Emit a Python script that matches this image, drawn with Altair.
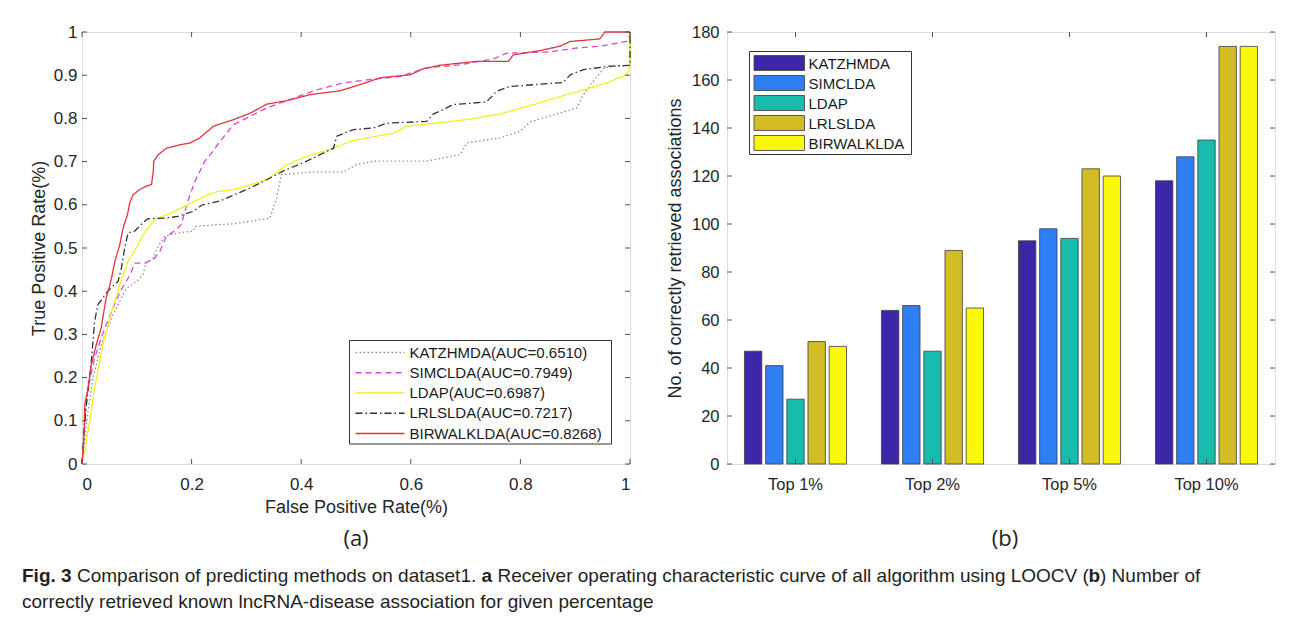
import altair as alt
import pandas as pd

# ---------------- data ----------------
ALGOS = ["KATZHMDA", "SIMCLDA", "LDAP", "LRLSLDA", "BIRWALKLDA"]
AUCS = ["0.6510", "0.7949", "0.6987", "0.7217", "0.8268"]

KATZ_ROC = [(0.000, 0.000), (0.004, 0.045), (0.011, 0.122), (0.020, 0.199), (0.035, 0.276),
            (0.054, 0.338), (0.078, 0.400), (0.085, 0.410), (0.102, 0.425), (0.111, 0.438),
            (0.117, 0.465), (0.130, 0.477), (0.139, 0.504), (0.151, 0.527), (0.175, 0.535),
            (0.203, 0.539), (0.206, 0.550), (0.248, 0.554), (0.276, 0.556), (0.343, 0.569),
            (0.355, 0.616), (0.364, 0.670), (0.422, 0.676), (0.477, 0.676), (0.501, 0.693),
            (0.532, 0.701), (0.629, 0.701), (0.690, 0.716), (0.702, 0.743), (0.763, 0.755),
            (0.799, 0.770), (0.818, 0.792), (0.860, 0.808), (0.903, 0.824), (0.915, 0.855),
            (0.933, 0.886), (0.954, 0.918), (1.000, 0.923), (1.000, 1.000)]
SIMC_ROC = [(0.000, 0.000), (0.002, 0.030), (0.006, 0.122), (0.011, 0.176), (0.023, 0.245),
            (0.035, 0.292), (0.054, 0.353), (0.070, 0.400), (0.084, 0.430), (0.090, 0.445),
            (0.096, 0.465), (0.114, 0.465), (0.130, 0.473), (0.142, 0.492), (0.154, 0.527),
            (0.169, 0.540), (0.181, 0.554), (0.193, 0.608), (0.206, 0.654), (0.224, 0.701),
            (0.234, 0.716), (0.252, 0.747), (0.276, 0.785), (0.307, 0.805), (0.337, 0.824),
            (0.367, 0.838), (0.428, 0.866), (0.477, 0.882), (0.520, 0.889), (0.580, 0.897),
            (0.629, 0.917), (0.690, 0.924), (0.751, 0.938), (0.775, 0.951), (0.854, 0.954),
            (0.903, 0.963), (0.945, 0.967), (0.994, 0.978), (1.000, 0.994), (1.000, 1.000)]
LDAP_ROC = [(0.000, 0.000), (0.005, 0.029), (0.014, 0.099), (0.023, 0.176), (0.038, 0.276),
            (0.054, 0.353), (0.070, 0.420), (0.084, 0.469), (0.099, 0.500), (0.114, 0.535),
            (0.133, 0.566), (0.163, 0.581), (0.187, 0.596), (0.224, 0.620), (0.248, 0.631),
            (0.276, 0.635), (0.337, 0.658), (0.374, 0.693), (0.410, 0.712), (0.459, 0.731),
            (0.495, 0.749), (0.568, 0.766), (0.593, 0.782), (0.702, 0.797), (0.763, 0.810),
            (0.824, 0.832), (0.860, 0.846), (0.915, 0.866), (0.957, 0.882), (0.994, 0.901),
            (1.000, 0.924), (1.000, 1.000)]
LRLS_ROC = [(0.000, 0.000), (0.004, 0.083), (0.008, 0.137), (0.017, 0.238), (0.023, 0.330),
            (0.029, 0.369), (0.047, 0.400), (0.066, 0.423), (0.072, 0.454), (0.078, 0.500),
            (0.084, 0.535), (0.096, 0.539), (0.111, 0.558), (0.120, 0.568), (0.151, 0.569),
            (0.175, 0.573), (0.203, 0.585), (0.218, 0.599), (0.252, 0.609), (0.307, 0.639),
            (0.337, 0.658), (0.367, 0.678), (0.410, 0.701), (0.459, 0.731), (0.465, 0.759),
            (0.495, 0.774), (0.532, 0.778), (0.556, 0.789), (0.629, 0.793), (0.641, 0.810),
            (0.678, 0.832), (0.738, 0.838), (0.757, 0.863), (0.781, 0.874), (0.878, 0.883),
            (0.891, 0.901), (0.915, 0.913), (0.964, 0.921), (1.000, 0.923), (1.000, 1.000)]
BIRW_ROC = [(0.000, 0.000), (0.002, 0.030), (0.004, 0.076), (0.005, 0.137), (0.011, 0.176),
            (0.017, 0.230), (0.026, 0.276), (0.035, 0.315), (0.044, 0.384), (0.051, 0.415),
            (0.054, 0.431), (0.060, 0.469), (0.069, 0.508), (0.075, 0.546), (0.083, 0.577),
            (0.087, 0.604), (0.093, 0.623), (0.105, 0.635), (0.117, 0.643), (0.127, 0.647),
            (0.130, 0.678), (0.131, 0.701), (0.139, 0.716), (0.154, 0.731), (0.179, 0.739),
            (0.197, 0.743), (0.215, 0.755), (0.240, 0.782), (0.276, 0.797), (0.307, 0.812),
            (0.337, 0.833), (0.374, 0.841), (0.416, 0.855), (0.471, 0.864), (0.507, 0.878),
            (0.544, 0.894), (0.599, 0.901), (0.623, 0.915), (0.653, 0.923), (0.720, 0.932),
            (0.778, 0.932), (0.787, 0.947), (0.836, 0.957), (0.872, 0.967), (0.891, 0.978),
            (0.945, 0.984), (0.954, 1.000), (1.000, 1.000)]
ROCS = [KATZ_ROC, SIMC_ROC, LDAP_ROC, LRLS_ROC, BIRW_ROC]

CATEGORIES = ["Top 1%", "Top 2%", "Top 5%", "Top 10%"]
KATZ_BARS = [47, 64, 93, 118]
SIMC_BARS = [41, 66, 98, 128]
LDAP_BARS = [27, 47, 94, 135]
LRLS_BARS = [51, 89, 123, 174]
BIRW_BARS = [49, 65, 120, 174]
BARS = [KATZ_BARS, SIMC_BARS, LDAP_BARS, LRLS_BARS, BIRW_BARS]

X_TICKS = [0, 0.2, 0.4, 0.6, 0.8, 1]
Y_TICKS = [0, 0.1, 0.2, 0.3, 0.4, 0.5, 0.6, 0.7, 0.8, 0.9, 1]
BAR_TICKS = [0, 20, 40, 60, 80, 100, 120, 140, 160, 180]

CAPTION_1 = [("Fig. 3", "bold", 0),
             ("Comparison of predicting methods on dataset1.", "normal", 55),
             ("a", "bold", 459.5),
             ("Receiver operating characteristic curve of all algorithm using LOOCV (", "normal", 475.5),
             ("b", "bold", 1066.5),
             (") Number of", "normal", 1078)]
CAPTION_2 = "correctly retrieved known lncRNA-disease association for given percentage"

# ---------------- styles ----------------
LINE_COLORS = ["#8c8c9a", "#dd44dd", "#f2f21c", "#333333", "#e0353f"]
LINE_DASHES = [[1.5, 2.5], [6, 4], [1, 0], [7, 3, 1.5, 3], [1, 0]]
BAR_COLORS = ["#3e26a8", "#2f7ff4", "#17bcad", "#d2bd26", "#f9f70e"]

FONT = "Liberation Sans"
CAP_FONT = "Liberation Sans"
TXT = "#262626"
TICK = "#505050"
W, H = 548, 432
CAP_SHIFT = -60

one = pd.DataFrame({"k": [0]})

roc_rows = []
for name, pts in zip(ALGOS, ROCS):
    for i, (fx, ty) in enumerate(pts):
        roc_rows.append({"algo": name, "fpr": fx, "tpr": ty, "idx": i})
roc_df = pd.DataFrame(roc_rows)

bar_rows = []
for name, vals in zip(ALGOS, BARS):
    for cat, v in zip(CATEGORIES, vals):
        bar_rows.append({"algo": name, "category": cat, "value": v})
bar_df = pd.DataFrame(bar_rows)

line_color = alt.Scale(domain=ALGOS, range=LINE_COLORS)
line_dash = alt.Scale(domain=ALGOS, range=LINE_DASHES)
bar_color = alt.Scale(domain=ALGOS, range=BAR_COLORS)


def plain_axis(values=None, size=17, pad=5, title=None, title_pad=5, fmt=None):
    kw = dict(ticks=False, domain=False, grid=False, labelFont=FONT,
              labelFontSize=size, labelColor=TXT, labelPadding=pad, labelAngle=0,
              titleFont=FONT, titleFontSize=18, titleFontWeight="normal",
              titleColor=TXT, titlePadding=title_pad)
    if title is not None:
        kw["title"] = title
    if values is not None:
        kw["values"] = values
    if fmt is not None:
        kw["format"] = fmt
    return alt.Axis(**kw)


def text(s, x, y, size, weight="normal", align="left", font=FONT, color=TXT):
    return alt.Chart(one).mark_text(
        text=s, align=align, baseline="middle", fontSize=size, fontWeight=weight,
        font=font, color=color).encode(x=alt.value(x), y=alt.value(y))


# ---------------- left: ROC ----------------
xs = alt.Scale(domain=[0, 1], nice=False)
ys = alt.Scale(domain=[0, 1], nice=False)
x_axis = plain_axis(X_TICKS, pad=12, title="False Positive Rate(%)", title_pad=6, fmt=".1~f")
y_axis = plain_axis(Y_TICKS, pad=5, title="True Positive Rate(%)", title_pad=5, fmt=".1~f")

line_layers = []
for name in ALGOS:
    line_layers.append(
        alt.Chart(roc_df).transform_filter(alt.datum.algo == name).mark_line(strokeWidth=1.3).encode(
            x=alt.X("fpr:Q", scale=xs, axis=x_axis),
            y=alt.Y("tpr:Q", scale=ys, axis=y_axis),
            color=alt.Color("algo:N", scale=line_color, legend=None),
            strokeDash=alt.StrokeDash("algo:N", scale=line_dash, legend=None),
            order="idx:Q",
        ))

xt_df = pd.DataFrame({"fpr": X_TICKS})
yt_df = pd.DataFrame({"tpr": Y_TICKS})
tick_layers = [
    alt.Chart(xt_df).mark_rule(color=TICK, strokeWidth=1).encode(
        x=alt.X("fpr:Q", scale=xs, axis=x_axis), y=alt.value(H), y2=alt.value(H - 5)),
    alt.Chart(xt_df).mark_rule(color=TICK, strokeWidth=1).encode(
        x=alt.X("fpr:Q", scale=xs, axis=x_axis), y=alt.value(0), y2=alt.value(5)),
    alt.Chart(yt_df).mark_rule(color=TICK, strokeWidth=1).encode(
        y=alt.Y("tpr:Q", scale=ys, axis=y_axis), x=alt.value(0), x2=alt.value(5)),
    alt.Chart(yt_df).mark_rule(color=TICK, strokeWidth=1).encode(
        y=alt.Y("tpr:Q", scale=ys, axis=y_axis), x=alt.value(W), x2=alt.value(W - 5)),
]

lleg_layers = [alt.Chart(one).mark_rect(fill="white", stroke="#333333", strokeWidth=1).encode(
    x=alt.value(267.5), x2=alt.value(529.5), y=alt.value(308.5), y2=alt.value(412))]
for i, (name, auc) in enumerate(zip(ALGOS, AUCS)):
    ry = 320.5 + 20.25 * i
    lleg_layers.append(alt.Chart(one).mark_rule(
        strokeWidth=1.3, color=LINE_COLORS[i], strokeDash=LINE_DASHES[i]).encode(
        x=alt.value(273.5), x2=alt.value(322.5), y=alt.value(ry)))
    lleg_layers.append(text(f"{name}(AUC={auc})", 327.5, ry, 15, color="#1a1a1a"))

label_a = text("(a)", W / 2, 506.5, 22, align="center", font="Open Sans", color="#231f20")
anchor = alt.Chart(one).mark_rule(opacity=0).encode(
    x=alt.value(-60.5), y=alt.value(0), y2=alt.value(H))

left = alt.layer(*line_layers, *tick_layers, *lleg_layers, label_a, anchor).properties(width=W, height=H)

# ---------------- right: bars ----------------
bx = alt.Scale(domain=CATEGORIES, paddingInner=0.255, paddingOuter=0.1275)
by = alt.Scale(domain=[0, 180], nice=False)
bx_axis = plain_axis(size=16.5, pad=12, title="")
by_axis = plain_axis(BAR_TICKS, size=16.5, pad=8,
                     title="No. of correctly retrieved associations", title_pad=7)

bars = alt.Chart(bar_df).mark_bar(stroke="#3c3c3c", strokeWidth=0.8).encode(
    x=alt.X("category:N", sort=CATEGORIES, scale=bx, axis=bx_axis),
    xOffset=alt.XOffset("algo:N", sort=ALGOS, scale=alt.Scale(domain=ALGOS, paddingInner=0.18, paddingOuter=0)),
    y=alt.Y("value:Q", scale=by, axis=by_axis),
    color=alt.Color("algo:N", scale=bar_color, legend=None),
)

cat_df = pd.DataFrame({"category": CATEGORIES})
bt_df = pd.DataFrame({"value": BAR_TICKS})
bar_ticks = [
    alt.Chart(cat_df).mark_rule(color=TICK, strokeWidth=1).encode(
        x=alt.X("category:N", sort=CATEGORIES, scale=bx, axis=bx_axis), y=alt.value(H), y2=alt.value(H - 5)),
    alt.Chart(cat_df).mark_rule(color=TICK, strokeWidth=1).encode(
        x=alt.X("category:N", sort=CATEGORIES, scale=bx, axis=bx_axis), y=alt.value(0), y2=alt.value(5)),
    alt.Chart(bt_df).mark_rule(color=TICK, strokeWidth=1).encode(
        y=alt.Y("value:Q", scale=by, axis=by_axis), x=alt.value(0), x2=alt.value(5)),
    alt.Chart(bt_df).mark_rule(color=TICK, strokeWidth=1).encode(
        y=alt.Y("value:Q", scale=by, axis=by_axis), x=alt.value(W), x2=alt.value(W - 5)),
]

rleg_layers = [alt.Chart(one).mark_rect(fill="white", stroke="#333333", strokeWidth=1).encode(
    x=alt.value(22.5), x2=alt.value(184.5), y=alt.value(19.5), y2=alt.value(122.5))]
for i, name in enumerate(ALGOS):
    y1 = 23.5 + 20 * i
    rleg_layers.append(alt.Chart(one).mark_rect(
        stroke="#3c3c3c", strokeWidth=0.8, fill=BAR_COLORS[i]).encode(
        x=alt.value(27), x2=alt.value(77.5), y=alt.value(y1), y2=alt.value(y1 + 15)))
    rleg_layers.append(text(name, 81.5, y1 + 8, 15, color="#1a1a1a"))

label_b = text("(b)", W / 2 + 4, 506.5, 22, align="center", font="Open Sans", color="#231f20")

right = alt.layer(bars, *bar_ticks, *rleg_layers, label_b).properties(width=W, height=H)

# ---------------- caption ----------------
cap_layers = []
for s, wgt, px in CAPTION_1:
    cap_layers.append(text(s, px + CAP_SHIFT, 10, 19, weight=wgt, font=CAP_FONT, color="#231f20"))
cap_layers.append(text(CAPTION_2, CAP_SHIFT, 36, 19, font=CAP_FONT, color="#231f20"))
caption = alt.layer(*cap_layers).properties(
    width=1150, height=42, view=alt.ViewBackground(strokeOpacity=0))

top = alt.hconcat(left, right, spacing=31).resolve_scale(color="independent", strokeDash="independent")
chart = alt.vconcat(top, caption, spacing=16).properties(
    padding={"left": 13, "top": 14, "right": 0, "bottom": 0}
).configure_view(stroke="#4d4d4d", strokeWidth=1).configure(font=FONT, background="white")

chart.save("out.html", embed_options={"renderer": "svg", "actions": False})
